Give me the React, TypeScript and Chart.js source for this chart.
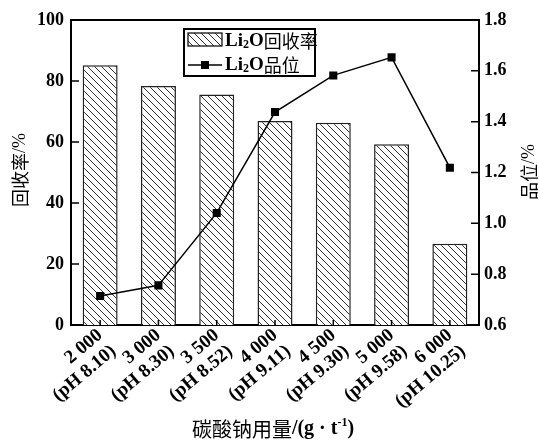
import React, { useEffect, useRef } from "react";
import { Chart, registerables } from "chart.js";

Chart.register(...registerables);

const categories: string[][] = [
  ["2 000", "(pH 8.10)"],
  ["3 000", "(pH 8.30)"],
  ["3 500", "(pH 8.52)"],
  ["4 000", "(pH 9.11)"],
  ["4 500", "(pH 9.30)"],
  ["5 000", "(pH 9.58)"],
  ["6 000", "(pH 10.25)"],
];
const recovery: number[] = [85.2, 78.4, 75.6, 66.9, 66.3, 59.3, 26.6];
const grade: number[] = [0.714, 0.756, 1.041, 1.438, 1.582, 1.653, 1.219];

const SERIF = "'Liberation Serif', 'Times New Roman', serif";
const CJK = "'Noto Sans CJK SC', sans-serif";

type Seg = { t: string; f: string; dy?: number };

function segWidth(ctx: CanvasRenderingContext2D, segs: Seg[]) {
  let w = 0;
  for (const s of segs) {
    ctx.font = s.f;
    w += ctx.measureText(s.t).width;
  }
  return w;
}

function drawSegs(ctx: CanvasRenderingContext2D, segs: Seg[], x: number, y: number) {
  let cx = x;
  ctx.textBaseline = "middle";
  ctx.textAlign = "left";
  for (const s of segs) {
    ctx.font = s.f;
    ctx.fillText(s.t, cx, y + (s.dy || 0));
    cx += ctx.measureText(s.t).width;
  }
}

function makeHatch(): CanvasPattern | string {
  const s = 7;
  const c = document.createElement("canvas");
  c.width = s;
  c.height = s;
  const g = c.getContext("2d");
  if (!g) return "#fff";
  g.fillStyle = "#fff";
  g.fillRect(0, 0, s, s);
  g.strokeStyle = "#333";
  g.lineWidth = 1;
  g.beginPath();
  g.moveTo(0, 0);
  g.lineTo(s, s);
  g.moveTo(-1, s - 1);
  g.lineTo(1, s + 1);
  g.moveTo(s - 1, -1);
  g.lineTo(s + 1, 1);
  g.stroke();
  const p = g.createPattern(c, "repeat");
  return p || "#fff";
}

export default function App() {
  const ref = useRef<HTMLCanvasElement | null>(null);

  useEffect(() => {
    const canvas = ref.current;
    if (!canvas) return;
    const hatch = makeHatch();

    const framePlugin = {
      id: "frame",
      beforeDraw(chart: any) {
        const ctx = chart.ctx;
        ctx.save();
        ctx.fillStyle = "#fff";
        ctx.fillRect(0, 0, chart.width, chart.height);
        ctx.restore();
      },
      afterDatasetsDraw(chart: any) {
        const ctx: CanvasRenderingContext2D = chart.ctx;
        const a = chart.chartArea;
        const y = chart.scales.y;
        const y1 = chart.scales.y1;
        const x = chart.scales.x;
        ctx.save();
        ctx.strokeStyle = "#000";
        ctx.lineWidth = 2;
        ctx.beginPath();
        ctx.moveTo(a.left - 1, a.top);
        ctx.lineTo(a.right + 1, a.top);
        ctx.stroke();
        ctx.lineWidth = 1.5;
        ctx.beginPath();
        for (const t of y.ticks) {
          const py = y.getPixelForValue(t.value);
          ctx.moveTo(a.left, py);
          ctx.lineTo(a.left + 8, py);
        }
        for (const t of y1.ticks) {
          const py = y1.getPixelForValue(t.value);
          ctx.moveTo(a.right, py);
          ctx.lineTo(a.right - 8, py);
        }
        for (let i = 0; i < categories.length; i++) {
          const px = x.getPixelForValue(i);
          ctx.moveTo(px, a.bottom);
          ctx.lineTo(px, a.bottom - 5);
        }
        ctx.stroke();
        ctx.restore();
      },
      afterDraw(chart: any) {
        const ctx: CanvasRenderingContext2D = chart.ctx;
        ctx.save();
        ctx.fillStyle = "#000";
        // legend
        const lx = 184, ly = 29, lw = 131, lh = 47;
        ctx.fillStyle = "#fff";
        ctx.fillRect(lx, ly, lw, lh);
        ctx.strokeStyle = "#000";
        ctx.lineWidth = 2;
        ctx.strokeRect(lx, ly, lw, lh);
        ctx.fillStyle = hatch as any;
        ctx.fillRect(188, 33, 34, 13);
        ctx.lineWidth = 1.2;
        ctx.strokeRect(188, 33, 34, 13);
        ctx.lineWidth = 1.5;
        ctx.beginPath();
        ctx.moveTo(188, 65);
        ctx.lineTo(222, 65);
        ctx.stroke();
        ctx.fillStyle = "#000";
        ctx.fillRect(201, 61, 8, 8);
        const bold = `bold 19px ${SERIF}`;
        const sub = `bold 12px ${SERIF}`;
        const cjk = `18px ${CJK}`;
        drawSegs(ctx, [
          { t: "Li", f: bold },
          { t: "2", f: sub, dy: 4 },
          { t: "O", f: bold },
          { t: "回收率", f: cjk },
        ], 225, 41);
        drawSegs(ctx, [
          { t: "Li", f: bold },
          { t: "2", f: sub, dy: 4 },
          { t: "O", f: bold },
          { t: "品位", f: cjk },
        ], 225, 65);

        // bottom title
        const bt: Seg[] = [
          { t: "碳酸钠用量", f: `20px ${CJK}` },
          { t: "/(g · t", f: `bold 20px ${SERIF}` },
          { t: "-1", f: `bold 12px ${SERIF}`, dy: -6 },
          { t: ")", f: `bold 20px ${SERIF}` },
        ];
        const bw = segWidth(ctx, bt);
        drawSegs(ctx, bt, 273 - bw / 2, 429);

        // left title
        const lt: Seg[] = [
          { t: "回收率", f: `18px ${CJK}` },
          { t: "/%", f: `18px ${SERIF}` },
        ];
        const ltw = segWidth(ctx, lt);
        ctx.save();
        ctx.translate(20, 170);
        ctx.rotate(-Math.PI / 2);
        drawSegs(ctx, lt, -ltw / 2, 0);
        ctx.restore();

        const rt: Seg[] = [
          { t: "品位", f: `18px ${CJK}` },
          { t: "/%", f: `18px ${SERIF}` },
        ];
        const rtw = segWidth(ctx, rt);
        ctx.save();
        ctx.translate(529, 172);
        ctx.rotate(-Math.PI / 2);
        drawSegs(ctx, rt, -rtw / 2, 0);
        ctx.restore();
        ctx.restore();
      },
    };

    const tickFont = { family: SERIF, size: 18, weight: "bold" as const };

    const chart = new Chart(canvas, {
      type: "bar",
      data: {
        labels: categories,
        datasets: [
          {
            type: "line" as const,
            label: "Li2O品位",
            data: grade,
            yAxisID: "y1",
            borderColor: "#000",
            backgroundColor: "#000",
            borderWidth: 1.5,
            pointStyle: "rect",
            pointRadius: 5.7,
            pointBackgroundColor: "#000",
            pointBorderColor: "#000",
            pointBorderWidth: 0,
            tension: 0,
            order: 0,
          },
          {
            type: "bar" as const,
            label: "Li2O回收率",
            data: recovery,
            yAxisID: "y",
            backgroundColor: hatch as any,
            borderColor: "#222",
            borderWidth: 1.5,
            barPercentage: 0.6,
            categoryPercentage: 1,
            order: 1,
          },
        ] as any,
      },
      options: {
        responsive: false,
        animation: false,
        layout: { padding: { top: 20, left: 0, right: 0, bottom: 0 }, autoPadding: false } as any,
        plugins: {
          legend: { display: false },
          tooltip: { enabled: false },
          title: { display: false },
        },
        scales: {
          x: {
            offset: true,
            grid: { display: false, drawTicks: false },
            border: { display: true, color: "#000", width: 2 },
            ticks: {
              font: { family: SERIF, size: 19, weight: "bold", lineHeight: 1.1 },
              color: "#000",
              minRotation: 40,
              maxRotation: 40,
              padding: 0,
              autoSkip: false,
            },
            afterFit(scale: any) {
              scale.height = 116;
            },
          },
          y: {
            position: "left",
            min: 0,
            max: 100,
            grid: { display: false, drawTicks: false },
            border: { display: true, color: "#000", width: 2 },
            ticks: { stepSize: 20, font: tickFont, color: "#000", padding: 7 },
            afterFit(scale: any) {
              scale.width = 71;
            },
          },
          y1: {
            position: "right",
            min: 0.6,
            max: 1.8,
            grid: { display: false, drawTicks: false },
            border: { display: true, color: "#000", width: 2 },
            ticks: {
              stepSize: 0.2,
              font: tickFont,
              color: "#000",
              padding: 5,
              callback: (v: any) => Number(v).toFixed(1),
            },
            afterFit(scale: any) {
              scale.width = 60;
            },
          },
        },
      } as any,
      plugins: [framePlugin],
    });

    return () => chart.destroy();
  }, []);

  return (
    <div style={{ position: "absolute", left: 0, top: 0, width: 539, height: 441 }}>
      <canvas ref={ref} width={539} height={441} style={{ display: "block" }} />
    </div>
  );
}
